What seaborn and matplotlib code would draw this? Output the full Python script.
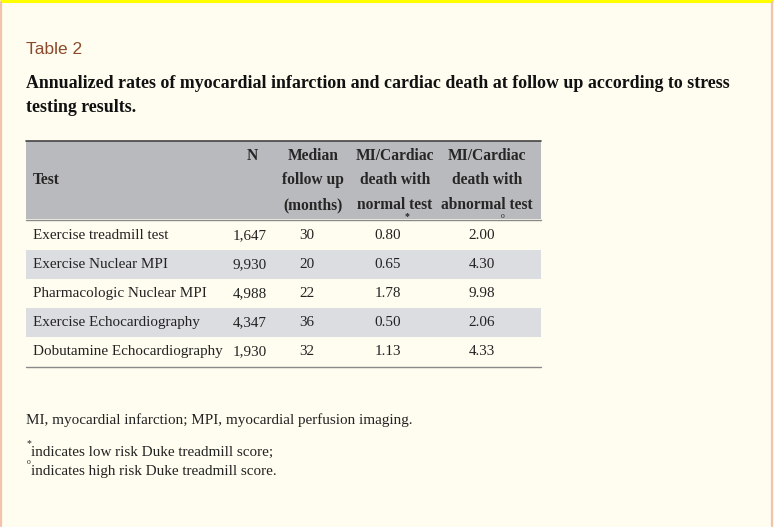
import matplotlib
matplotlib.use("Agg")
import matplotlib.pyplot as plt
import seaborn as sns

# ---- data ----
tests = ["Exercise treadmill test", "Exercise Nuclear MPI", "Pharmacologic Nuclear MPI",
         "Exercise Echocardiography", "Dobutamine Echocardiography"]
n_values = ["1,647", "9,930", "4,988", "4,347", "1,930"]
median_followup = ["30", "20", "22", "36", "32"]
rate_normal = ["0.80", "0.65", "1.78", "0.50", "1.13"]
rate_abnormal = ["2.00", "4.30", "9.98", "2.06", "4.33"]
header_lines = {
    "N": ["N", "", ""],
    "Median": ["Median", "follow up", "(months)"],
    "Normal": ["MI/Cardiac", "death with", "normal test"],
    "Abnormal": ["MI/Cardiac", "death with", "abnormal test"],
}
table_label = "Table 2"
title_lines = ["Annualized rates of myocardial infarction and cardiac death at follow up according to stress",
               "testing results."]
footnotes = ["MI, myocardial infarction; MPI, myocardial perfusion imaging."]

sns.set_theme(style="white")
plt.rcParams['font.family'] = ['Liberation Serif', 'DejaVu Serif']

W, H = 774, 527
fig = plt.figure(figsize=(W / 100, H / 100), dpi=100)
bg = "#fffdf0"
fig.patch.set_facecolor(bg)
ax = fig.add_axes([0, 0, 1, 1])
ax.set_xlim(0, W)
ax.set_ylim(H, 0)
ax.axis("off")
ax.set_facecolor(bg)

# borders
ax.plot([0, W], [0.8, 0.8], color="#ffff00", lw=2.2, solid_capstyle="butt")
ax.plot([1, 1], [1.5, H - 1], color="#f2c2aa", lw=1.6)
ax.plot([W - 2, W - 2], [1.5, H - 1], color="#f2c2aa", lw=1.6)

# label and title
ax.text(26.5, 49, table_label, fontsize=12.5, color="#8b4a2b", va="center", ha="left",
        family=["Liberation Sans", "DejaVu Sans"])
for i, line in enumerate(title_lines):
    ax.text(26, 84 + i * 23, line, fontsize=12.9, fontweight="bold", va="center", ha="left",
            color="#111111")

# table geometry
x0, x1 = 26, 541
ax.fill_between([x0, x1], 141, 219, color="#b9babd", lw=0)
ax.plot([x0, x1], [141, 141], color="#444444", lw=1.2)
ax.plot([x0, x1], [219.5, 219.5], color="#8a8a8a", lw=1.0)

hx = {"N": 252, "Median": 313, "Normal": 395, "Abnormal": 487}
hy = [156, 180.5, 205]
hfs = 11.2
ax.text(33, hy[1], "Test", fontsize=hfs, fontweight="bold", va="center", ha="left")
for key, lines in header_lines.items():
    for j, t in enumerate(lines):
        if t:
            ax.text(hx[key], hy[j], t, fontsize=hfs, fontweight="bold", va="center", ha="center")
ax.text(407, 216.5, "*", fontsize=7, fontweight="bold", va="center", ha="center")
ax.text(503, 215.5, "o", fontsize=5.5, va="center", ha="center")

row_y0 = 221
row_h = 29
bx = {"N": 250, "Median": 307, "Normal": 388, "Abnormal": 482}
bfs = 10.9
for i in range(len(tests)):
    yc = row_y0 + row_h * i + row_h / 2
    if i % 2 == 1:
        ax.fill_between([x0, x1], row_y0 + row_h * i, row_y0 + row_h * (i + 1),
                        color="#dcdde0", lw=0)
    ax.text(33, yc, tests[i], fontsize=bfs, va="center", ha="left", color="#222222")
    ax.text(bx["N"], yc, n_values[i], fontsize=bfs, va="center", ha="center", color="#222222")
    ax.text(bx["Median"], yc, median_followup[i], fontsize=bfs, va="center", ha="center", color="#222222")
    ax.text(bx["Normal"], yc, rate_normal[i], fontsize=bfs, va="center", ha="center", color="#222222")
    ax.text(bx["Abnormal"], yc, rate_abnormal[i], fontsize=bfs, va="center", ha="center", color="#222222")
ax.plot([x0, x1], [366.5, 366.5], color="#8a8a8a", lw=1.0)

# footnotes
ffs = 10.9
ax.text(26, 420, footnotes[0], fontsize=ffs, va="center", ha="left", color="#222222")
ax.text(26.5, 444, "*", fontsize=7, va="center", ha="left", color="#222222")
ax.text(31, 452, "indicates low risk Duke treadmill score;", fontsize=ffs, va="center", ha="left",
        color="#222222")
ax.text(26.5, 462, "o", fontsize=5.5, va="center", ha="left", color="#222222")
ax.text(31, 471, "indicates high risk Duke treadmill score.", fontsize=ffs, va="center", ha="left",
        color="#222222")

fig.savefig("out.png", dpi=100, facecolor=bg)
